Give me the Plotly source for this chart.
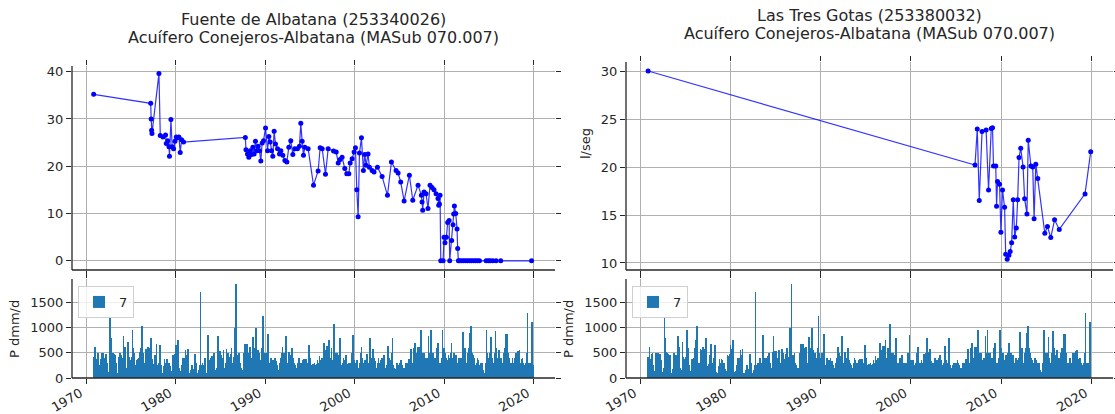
import plotly.graph_objects as go

# ---------------- data ----------------
# Fuente de Albatana (253340026) caudal l/seg, decimal years
alb_year = [1970.82, 1977.20, 1977.25, 1977.30, 1977.34, 1978.12, 1978.27, 1978.57, 1978.86, 1978.94,
            1979.10, 1979.24, 1979.30, 1979.46, 1979.60, 1979.76, 1979.91, 1980.06, 1980.20, 1980.35,
            1980.50, 1980.65, 1980.87, 1987.78, 1987.85, 1988.02, 1988.17, 1988.32, 1988.47, 1988.62,
            1988.76, 1988.91, 1989.06, 1989.21, 1989.36, 1989.51, 1989.66, 1989.81, 1990.04, 1990.26,
            1990.41, 1990.56, 1990.71, 1990.85, 1991.00, 1991.15, 1991.38, 1991.60, 1991.75, 1991.97,
            1992.20, 1992.42, 1992.64, 1992.86, 1993.09, 1993.31, 1993.61, 1993.83, 1993.98, 1994.13,
            1994.28, 1994.43, 1994.80, 1995.40, 1995.92, 1996.14, 1996.37, 1996.74, 1997.04, 1997.64,
            1997.94, 1998.16, 1998.38, 1998.60, 1998.90, 1999.12, 1999.35, 1999.50, 1999.72, 1999.94,
            2000.09, 2000.24, 2000.39, 2000.54, 2000.76, 2000.98, 2001.13, 2001.28, 2001.50, 2001.65,
            2001.95, 2002.17, 2002.55, 2003.07, 2003.67, 2004.11, 2004.63, 2004.86, 2005.15, 2005.53,
            2006.12, 2006.50, 2007.09, 2007.46, 2007.54, 2007.61, 2007.76, 2007.98, 2008.20, 2008.43,
            2008.65, 2008.87, 2009.10, 2009.32, 2009.40, 2009.48, 2009.55, 2009.63, 2009.89, 2010.00,
            2010.10, 2010.26, 2010.40, 2010.56, 2010.63, 2010.85, 2011.00, 2011.07, 2011.15, 2011.30,
            2011.45, 2011.52, 2011.60, 2011.74, 2011.96, 2012.19, 2012.41, 2012.63, 2012.85, 2013.07,
            2013.30, 2013.52, 2013.74, 2013.96, 2014.70, 2014.93, 2015.15, 2015.44, 2015.81, 2016.33,
            2019.78]
alb_flow = [35.2, 33.3, 30.0, 27.6, 26.9, 39.6, 26.5, 26.2, 26.6, 24.8,
            25.4, 24.1, 22.1, 29.9, 24.1, 23.7, 25.3, 26.2, 26.0, 26.2,
            22.9, 25.6, 25.1, 26.1, 23.5, 22.6, 21.9, 23.3, 22.5, 24.0,
            22.6, 25.3, 23.3, 24.2, 23.3, 21.1, 24.9, 25.4, 28.1, 23.3,
            26.3, 25.1, 23.3, 22.1, 27.4, 24.7, 23.7, 22.6, 23.3, 22.3,
            21.2, 20.9, 24.0, 25.4, 22.5, 23.7, 23.7, 24.2, 29.1, 25.3,
            22.3, 24.0, 23.7, 16.0, 19.0, 23.9, 23.7, 18.3, 23.7, 23.2,
            23.0, 20.7, 21.4, 21.9, 19.5, 18.4, 18.4, 20.7, 21.6, 23.0,
            23.9, 15.05, 9.3, 22.8, 26.0, 19.1, 22.5, 20.2, 22.6, 19.8,
            19.1, 18.8, 19.8, 17.85, 13.85, 20.9, 19.1, 18.55, 16.65, 12.65,
            18.1, 12.8, 16.0, 13.85, 12.45, 10.7, 14.55, 14.2, 11.05, 16.0,
            15.5, 15.05, 14.2, 13.15, 11.75, 12.0, 13.85, 0, 0, 5.0,
            3.8, 5.0, 8.1, 8.5, 0, 4.3, 7.6, 9.9, 11.6, 10.0,
            6.7, 2.6, 0, 0, 0, 0, 0, 0, 0, 0,
            0, 0, 0, 0, 0, 0, 0, 0, 0, 0,
            0]

# Las Tres Gotas (253380032) caudal l/seg
gotas_year = [1970.85, 2007.10, 2007.35, 2007.57, 2007.88, 2008.33, 2008.60, 2008.90, 2009.04, 2009.15,
              2009.40, 2009.49, 2009.60, 2009.82, 2009.97, 2010.15, 2010.38, 2010.50, 2010.67, 2010.86,
              2011.00, 2011.16, 2011.34, 2011.50, 2011.68, 2011.83, 2011.98, 2012.17, 2012.43, 2012.60,
              2012.86, 2013.00, 2013.30, 2013.50, 2013.65, 2013.84, 2014.06, 2014.84, 2015.13, 2015.50,
              2015.92, 2016.44, 2019.30, 2019.93]
gotas_flow = [30.0, 20.2, 23.96, 16.5, 23.7, 23.86, 17.6, 24.0, 24.1, 20.1,
              20.1, 15.9, 18.5, 18.2, 13.2, 17.6, 15.8, 10.9, 10.4, 10.8,
              11.2, 12.1, 16.6, 12.7, 13.65, 16.6, 21.0, 21.95, 20.0, 16.7,
              15.1, 22.8, 20.1, 20.0, 14.6, 20.3, 18.8, 13.1, 13.8, 12.65,
              14.5, 13.5, 17.2, 21.6]

# Monthly precipitation (P dmm/d), starting Nov 1970
precip_start_year = 1970
precip_start_month = 11
precip = [
    410, 420,
    620, 380, 300, 480, 500, 260, 90, 140, 380, 490, 320, 500,          # 1971
    400, 320, 480, 350, 300, 120, 60, 200, 1190, 800, 520, 430,         # 1972
    500, 480, 380, 450, 300, 100, 80, 180, 420, 500, 350, 460,          # 1973
    400, 300, 840, 600, 620, 200, 90, 150, 710, 420, 380, 300,          # 1974
    350, 420, 960, 600, 500, 250, 60, 140, 360, 380, 330, 400,          # 1975
    520, 600, 750, 1030, 500, 300, 120, 300, 580, 560, 420, 620,        # 1976
    600, 500, 580, 790, 380, 240, 90, 280, 450, 420, 670, 250,          # 1977
    150, 300, 400, 660, 250, 110, 60, 100, 230, 380, 300, 270,          # 1978
    380, 350, 260, 300, 240, 180, 70, 140, 450, 440, 420, 470,          # 1979
    660, 580, 500, 760, 200, 110, 60, 130, 250, 380, 400, 230,          # 1980
    400, 560, 450, 380, 570, 100, 50, 90, 150, 200, 250, 120,           # 1981
    180, 260, 480, 300, 220, 90, 60, 150, 260, 1700, 200, 260,          # 1982
    300, 200, 250, 400, 300, 90, 60, 860, 400, 300, 350, 400,           # 1983
    300, 440, 400, 500, 300, 160, 70, 200, 520, 840, 530, 400,          # 1984
    530, 460, 400, 380, 560, 200, 80, 300, 580, 400, 500, 380,          # 1985
    300, 420, 480, 600, 300, 200, 420, 1000, 380, 1860, 460, 250,       # 1986
    460, 500, 300, 250, 200, 150, 90, 200, 500, 680, 600, 680,          # 1987
    680, 450, 500, 600, 620, 400, 300, 200, 820, 500, 600, 500,         # 1988
    990, 400, 550, 450, 500, 350, 200, 400, 600, 1230, 500, 400,        # 1989
    400, 500, 450, 500, 870, 300, 150, 250, 400, 350, 300, 350,         # 1990
    350, 400, 300, 330, 250, 150, 80, 200, 300, 400, 500, 620,          # 1991
    450, 500, 430, 350, 830, 200, 100, 300, 520, 450, 400, 350,         # 1992
    590, 400, 350, 300, 250, 150, 70, 200, 300, 400, 350, 280,          # 1993
    300, 250, 350, 250, 380, 200, 70, 380, 300, 250, 200, 660,          # 1994
    400, 40, 100, 250, 280, 230, 300, 260, 250, 280, 350, 300,          # 1995
    300, 440, 350, 300, 400, 300, 350, 700, 450, 560, 400, 640,         # 1996
    640, 500, 760, 400, 350, 600, 300, 350, 1080, 500, 400, 500,        # 1997
    500, 300, 450, 400, 800, 300, 200, 250, 300, 400, 350, 200,         # 1998
    450, 300, 250, 280, 300, 200, 150, 300, 500, 400, 860, 300,         # 1999
    350, 300, 280, 350, 250, 200, 150, 300, 500, 610, 400, 300,         # 2000
    250, 300, 350, 300, 250, 480, 200, 300, 500, 800, 400, 350,         # 2001
    520, 570, 400, 330, 300, 200, 100, 300, 400, 250, 300, 350,         # 2002
    250, 400, 300, 460, 350, 200, 100, 250, 300, 640, 400, 350,         # 2003
    300, 250, 500, 790, 250, 200, 150, 180, 250, 300, 190, 250,         # 2004
    300, 250, 350, 300, 260, 200, 100, 150, 200, 300, 100, 250,         # 2005
    300, 380, 350, 400, 580, 300, 200, 250, 600, 700, 500, 400,         # 2006
    300, 620, 400, 620, 500, 950, 200, 300, 500, 500, 400, 350,         # 2007
    350, 400, 300, 840, 500, 300, 960, 400, 500, 450, 500, 400,         # 2008
    350, 400, 600, 500, 700, 300, 200, 250, 300, 400, 950, 600,         # 2009
    600, 500, 500, 400, 350, 300, 460, 300, 400, 500, 700, 400,         # 2010
    350, 500, 400, 300, 450, 300, 200, 300, 400, 350, 300, 400,         # 2011
    300, 920, 250, 300, 600, 300, 200, 250, 500, 600, 900, 500,         # 2012
    1030, 600, 500, 450, 400, 350, 250, 250, 300, 400, 350, 250,        # 2013
    250, 300, 200, 300, 150, 120, 100, 100, 300, 950, 500, 400,         # 2014
    350, 500, 500, 820, 400, 300, 200, 300, 500, 940, 600, 400,         # 2015
    300, 450, 550, 400, 300, 400, 200, 300, 500, 600, 500, 880,         # 2016
    880, 870, 500, 400, 300, 300, 200, 300, 400, 300, 200, 400,         # 2017
    500, 450, 500, 530, 500, 560, 300, 250, 370, 400, 300, 250,         # 2018
    200, 250, 300, 500, 1290, 300, 250, 300, 250, 300, 1120, 250,       # 2019
]
precip_year = [precip_start_year + (precip_start_month - 1 + i) / 12.0 for i in range(len(precip))]

x_ticks = [1970, 1980, 1990, 2000, 2010, 2020]
titles_left = ["Fuente de Albatana (253340026)", "Acuífero Conejeros-Albatana (MASub 070.007)"]
titles_right = ["Las Tres Gotas (253380032)", "Acuífero Conejeros-Albatana (MASub 070.007)"]
flow_label = "l/seg"
precip_label = "P dmm/d"

# ---------------- figure ----------------
W, H = 1115, 414
ML, MR, MT, MB = 72, 2, 62, 36          # plot area: x 72..1113, y 62..378
PW, PH = W - ML - MR, H - MT - MB
FONT = "DejaVu Sans"
TXT = "#262626"
GRID = "#b0b0b0"
XR = [1968.4, 2022.4]

fig = go.Figure()

line_style = dict(color="rgba(0,0,255,0.8)", width=1.2)
marker_style = dict(color="#0000ff", size=5)

fig.add_trace(go.Scatter(x=alb_year, y=alb_flow, mode="lines+markers", line=line_style,
                         marker=marker_style, xaxis="x", yaxis="y", showlegend=False))
fig.add_trace(go.Bar(x=precip_year, y=precip, width=0.075, marker=dict(color="#1f77b4", line=dict(width=0)),
                     name="7", xaxis="x2", yaxis="y2", legend="legend"))
fig.add_trace(go.Scatter(x=gotas_year, y=gotas_flow, mode="lines+markers", line=line_style,
                         marker=marker_style, xaxis="x3", yaxis="y3", showlegend=False))
fig.add_trace(go.Bar(x=precip_year, y=precip, width=0.075, marker=dict(color="#1f77b4", line=dict(width=0)),
                     name="7", xaxis="x4", yaxis="y4", legend="legend2"))


def px_x(p):
    return (p - ML) / PW


def px_y(p):
    return (H - MB - p) / PH


common_x = dict(range=XR, tickvals=x_ticks, ticks="outside", ticklen=5, tickwidth=1, tickcolor=TXT,
                showgrid=True, gridcolor=GRID, gridwidth=1, zeroline=False, showline=False,
                mirror="ticks", automargin=False, tickfont=dict(family=FONT, size=13, color=TXT))
common_y = dict(ticks="outside", ticklen=5, tickwidth=1, tickcolor=TXT,
                showgrid=True, gridcolor=GRID, gridwidth=1, zeroline=False, showline=False,
                mirror="ticks", automargin=False, tickfont=dict(family=FONT, size=13, color=TXT))

left_dom = [px_x(72), px_x(555)]
right_dom = [px_x(626), px_x(1113)]
top_dom_l = [px_y(270), px_y(66)]
top_dom_r = [px_y(270), px_y(62)]
bot_dom = [px_y(378), px_y(279)]

fig.update_layout(
    width=W, height=H, margin=dict(l=ML, r=MR, t=MT, b=MB, autoexpand=False),
    paper_bgcolor="white", plot_bgcolor="white",
    font=dict(family=FONT, size=13, color=TXT),
    bargap=0,
    xaxis=dict(domain=left_dom, anchor="y", showticklabels=False, **common_x),
    yaxis=dict(domain=top_dom_l, anchor="x", range=[-1.95, 41.2], tickvals=[0, 10, 20, 30, 40], **common_y),
    xaxis2=dict(domain=left_dom, anchor="y2", tickangle=-30, ticklabelshift=-6, ticklabelstandoff=-3,
                **common_x),
    yaxis2=dict(domain=bot_dom, anchor="x2", range=[0, 1966], tickvals=[0, 500, 1000, 1500], **common_y),
    xaxis3=dict(domain=right_dom, anchor="y3", showticklabels=False, **common_x),
    yaxis3=dict(domain=top_dom_r, anchor="x3", range=[9.27, 30.94], tickvals=[10, 15, 20, 25, 30], **common_y),
    xaxis4=dict(domain=right_dom, anchor="y4", tickangle=-30, ticklabelshift=-6, ticklabelstandoff=-3,
                **common_x),
    yaxis4=dict(domain=bot_dom, anchor="x4", range=[0, 1966], tickvals=[0, 500, 1000, 1500], **common_y),
    legend=dict(x=px_x(78), y=px_y(286), xanchor="left", yanchor="top",
                bgcolor="rgba(255,255,255,0.8)", bordercolor="#d0d0d0", borderwidth=1,
                itemwidth=30, font=dict(family=FONT, size=13, color=TXT)),
    legend2=dict(x=px_x(632), y=px_y(286), xanchor="left", yanchor="top",
                 bgcolor="rgba(255,255,255,0.8)", bordercolor="#d0d0d0", borderwidth=1,
                 itemwidth=30, font=dict(family=FONT, size=13, color=TXT)),
)

# spines (left and bottom) in axis-domain coordinates
shapes = []
for xa, ya in [("x", "y"), ("x2", "y2"), ("x3", "y3"), ("x4", "y4")]:
    spine = dict(type="line", xref=f"{xa} domain", yref=f"{ya} domain", line=dict(color=TXT, width=1.3))
    shapes.append(dict(spine, x0=0, x1=0, y0=0, y1=1))
    shapes.append(dict(spine, x0=0, x1=1, y0=0, y1=0))
fig.update_layout(shapes=shapes)

# two-line titles and axis labels
ann = []
for (cx, y1, y2), lines in [((313, 20, 37), titles_left), ((869.5, 16, 33.5), titles_right)]:
    ann.append(dict(text=lines[0], x=px_x(cx), y=px_y(y1), xref="paper", yref="paper",
                    xanchor="center", yanchor="middle", showarrow=False,
                    font=dict(family=FONT, size=16, color=TXT)))
    ann.append(dict(text=lines[1], x=px_x(cx), y=px_y(y2), xref="paper", yref="paper",
                    xanchor="center", yanchor="middle", showarrow=False,
                    font=dict(family=FONT, size=16, color=TXT)))
for text, cx, cy in [(precip_label, 14, 329), (precip_label, 568, 329), (flow_label, 585, 144)]:
    ann.append(dict(text=text, x=px_x(cx), y=px_y(cy), xref="paper", yref="paper", textangle=-90,
                    xanchor="center", yanchor="middle", showarrow=False,
                    font=dict(family=FONT, size=13, color=TXT)))
fig.update_layout(annotations=ann)

fig.write_html("out.html", config={"displayModeBar": False},
               post_script="document.body.style.margin='0px';")
